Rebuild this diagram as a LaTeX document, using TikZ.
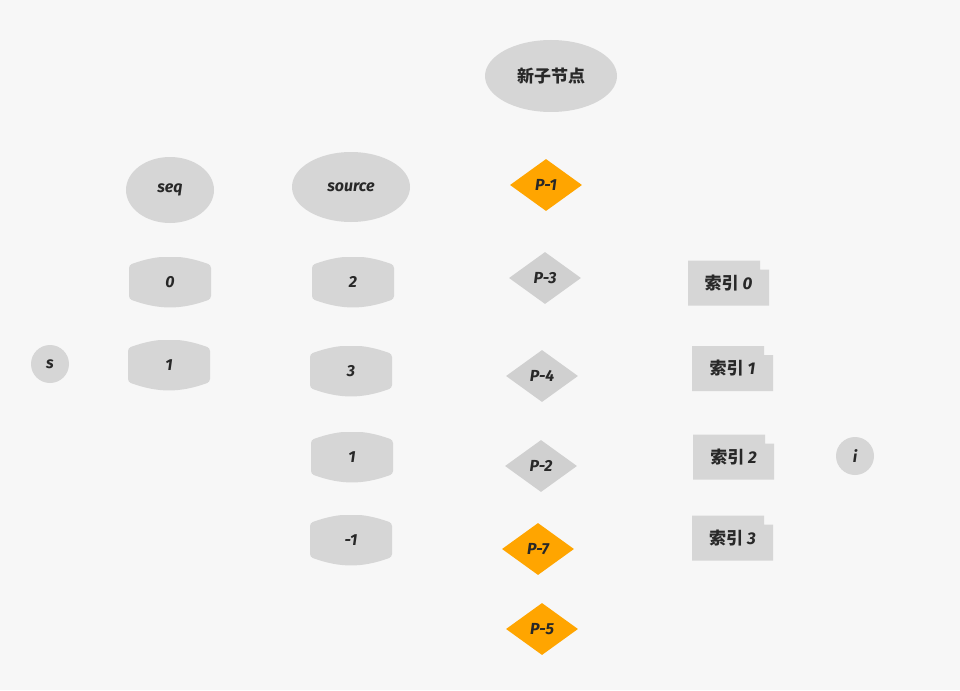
\documentclass[tikz,border=0pt]{standalone}
\usepackage{fontspec}
\setmainfont{Fira Sans}
\newfontfamily\cjk{Noto Sans CJK SC}
\usetikzlibrary{shapes.geometric}

\definecolor{paper}{RGB}{247,247,247}
\definecolor{shapegray}{RGB}{214,214,214}
\definecolor{diagray}{RGB}{208,208,208}
\definecolor{pickorange}{RGB}{255,165,0}
\definecolor{inkgray}{RGB}{40,40,40}

\tikzset{
  lbl/.style={text=inkgray, font=\fontsize{16}{18}\selectfont\itshape\bfseries},
  zh/.style={text=inkgray, font=\fontsize{17}{20}\selectfont\cjk\bfseries},
  blob/.style={ellipse, fill=shapegray, inner sep=0pt},
  dot/.style={circle, fill=shapegray, minimum size=38pt, inner sep=0pt, lbl},
  cell/.style={minimum width=82pt, minimum height=50pt, inner sep=0pt, lbl,
    path picture={\fill[shapegray, rounded corners=3pt]
      ([yshift=-8pt]path picture bounding box.north west) to[bend left=20]
      ([yshift=-8pt]path picture bounding box.north east) --
      ([yshift=8pt]path picture bounding box.south east) to[bend left=20]
      ([yshift=8pt]path picture bounding box.south west) -- cycle;}},
  pick/.style={diamond, minimum width=72pt, minimum height=52pt, inner sep=0pt, lbl},
  tag/.style={minimum width=81pt, minimum height=45pt, inner sep=0pt, zh,
    path picture={\fill[shapegray]
      (path picture bounding box.north west) --
      ([xshift=-9pt]path picture bounding box.north east) --
      ([xshift=-9pt,yshift=-9pt]path picture bounding box.north east) --
      ([yshift=-9pt]path picture bounding box.north east) --
      (path picture bounding box.south east) --
      (path picture bounding box.south west) -- cycle;}},
}

\newcommand{\num}[1]{{\fontspec{Fira Sans}\fontsize{17}{20}\selectfont\itshape\bfseries #1}}

\begin{document}
\begin{tikzpicture}[x=1pt,y=-1pt]
%set diagram canvas 960 x 690
\fill[paper] (0,0) rectangle (960,690);
\useasboundingbox (0,0) rectangle (960,690);

%Shape: Ellipse (header)
\node[blob, minimum width=132pt, minimum height=72pt, zh] (newnode) at (551,76) {新子节点};
\node[blob, minimum width=88pt, minimum height=66pt, lbl] (seq) at (170,190) {seq};
\node[blob, minimum width=118pt, minimum height=70pt, lbl] (source) at (351,187) {source};

%Shape: Circle
\node[dot] (s) at (50,364) {s};
\node[dot] (i) at (855,456) {i};

% seq column
\node[cell] (seq0) at (170,282) {0};
\node[cell] (seq1) at (169,365) {1};

% source column
\node[cell] (src0) at (353,282) {2};
\node[cell] (src1) at (351,371) {3};
\node[cell] (src2) at (352,457) {1};
\node[cell] (src3) at (351,540) {-1};

%Shape: Diamond
\node[pick, fill=pickorange] (p1) at (546,185) {P-1};
\node[pick, fill=diagray] (p3) at (545,278) {P-3};
\node[pick, fill=diagray] (p4) at (542,376) {P-4};
\node[pick, fill=diagray] (p2) at (541,466) {P-2};
\node[pick, fill=pickorange] (p7) at (538,549) {P-7};
\node[pick, fill=pickorange] (p5) at (542,629) {P-5};

% index boxes
\node[tag] (idx0) at (728.5,283) {索引 \num{0}};
\node[tag] (idx1) at (732.5,368.5) {索引 \num{1}};
\node[tag] (idx2) at (733.5,457) {索引 \num{2}};
\node[tag] (idx3) at (732.5,538) {索引 \num{3}};
\end{tikzpicture}
\end{document}
